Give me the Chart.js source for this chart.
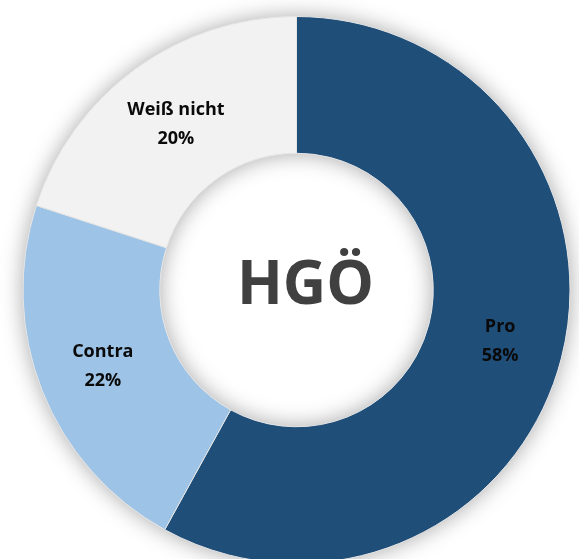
<!DOCTYPE html>
<html>
<head>
<meta charset="utf-8">
<script src="https://cdn.jsdelivr.net/npm/chart.js@4"></script>
<style>
  html, body { margin: 0; padding: 0; background: #fff; overflow: hidden; }
  #wrap { position: relative; width: 579px; height: 580px; }
</style>
</head>
<body>
<div id="wrap"><canvas id="hgoChart"></canvas></div>
<script>
// values
var labels = ['Pro', 'Contra', 'Weiß nicht'];
var values = [58, 22, 20];
var colors = ['#1f4e79', '#9dc3e6', '#f2f2f2'];
var centerText = 'HGÖ';

// soft shadow behind the ring (falls outside and into the hole)
var ringShadow = {
  id: 'ringShadow',
  beforeDatasetsDraw: function (chart) {
    var arc = chart.getDatasetMeta(0).data[0];
    if (!arc) return;
    var c = chart.ctx;
    c.save();
    c.shadowColor = 'rgba(0, 0, 0, 0.35)';
    c.shadowBlur = 22;
    c.beginPath();
    c.arc(arc.x, arc.y, arc.outerRadius, 0, Math.PI * 2);
    c.arc(arc.x, arc.y, arc.innerRadius, Math.PI * 2, 0, true);
    c.closePath();
    c.fillStyle = '#ffffff';
    c.fill('evenodd');
    c.restore();
  }
};

// category + percent written inside every slice, and the title in the hole
var sliceLabels = {
  id: 'sliceLabels',
  afterDatasetsDraw: function (chart) {
    var c = chart.ctx;
    var meta = chart.getDatasetMeta(0);
    c.save();
    c.textAlign = 'center';
    c.textBaseline = 'middle';
    c.fillStyle = '#0a0a0a';
    c.font = 'bold 18px "Open Sans"';
    meta.data.forEach(function (el, i) {
      var p = el.tooltipPosition();
      var dx = i === 0 ? 5 : (i === 1 ? -3 : 0);
      c.fillText(labels[i], p.x + dx, p.y - 14);
      c.fillText(values[i] + '%', p.x + dx, p.y + 15);
    });
    var first = meta.data[0];
    c.fillStyle = '#404040';
    c.font = 'bold 60px "Open Sans"';
    c.fillText(centerText, first.x + 9, first.y - 3);
    c.restore();
  }
};

var ctx = document.getElementById('hgoChart').getContext('2d');
var hgoChart = new Chart(ctx, {
  type: 'doughnut',
  data: {
    labels: labels,
    datasets: [{
      data: values,
      backgroundColor: colors,
      borderColor: '#e4e4e4',
      borderWidth: 1
    }]
  },
  options: {
    responsive: true,
    maintainAspectRatio: false,
    animation: false,
    cutout: '50%',
    layout: {
      padding: { top: 16, bottom: 16, left: 22, right: 8 }
    },
    plugins: {
      legend: { display: false },
      tooltip: { enabled: false }
    }
  },
  plugins: [ringShadow, sliceLabels]
});
</script>
</body>
</html>
